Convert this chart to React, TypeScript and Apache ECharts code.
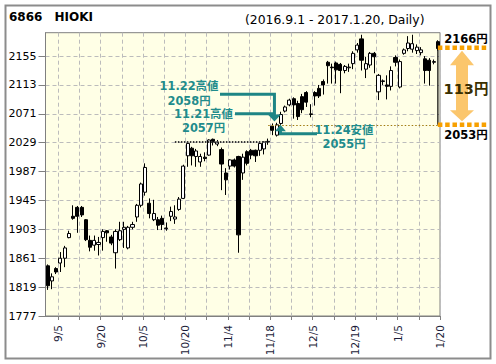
import React, { useEffect, useRef } from 'react';
import * as echarts from 'echarts';

// Trading days 2016.9.1 - 2017.1.20
const dates = [
  '9/1','9/2','9/5','9/6','9/7','9/8','9/9','9/12','9/13','9/14','9/15','9/16','9/20','9/21','9/23','9/26','9/27','9/28','9/29','9/30',
  '10/3','10/4','10/5','10/6','10/7','10/11','10/12','10/13','10/14','10/17','10/18','10/19','10/20','10/21','10/24','10/25','10/26','10/27','10/28','10/31',
  '11/1','11/2','11/4','11/7','11/8','11/9','11/10','11/11','11/14','11/15','11/16','11/17','11/18','11/21','11/22','11/24','11/25','11/28','11/29','11/30',
  '12/1','12/2','12/5','12/6','12/7','12/8','12/9','12/12','12/13','12/14','12/15','12/16','12/19','12/20','12/21','12/22','12/26','12/27','12/28','12/29','12/30',
  '1/4','1/5','1/6','1/10','1/11','1/12','1/13','1/16','1/17','1/18','1/19','1/20'
];

const opens = [
  1850,1828,1846,1854,1861,1891,1922,1935,1935,1917,1887,1880,1881,1891,1901,1892,1869,1888,1903,1876,
  1906,1921,1938,1957,1941,1917,1917,1919,1904,1922,1918,1932,1948,2010,2021,2009,2001,2008,2011,2034,
  2027,2019,1985,1995,2004,2009,1985,2016,2018,2018,2018,2020,2030,2053,2040,2057,2075,2084,2093,2086,
  2096,2102,2070,2102,2108,2118,2146,2139,2145,2143,2134,2138,2144,2164,2180,2136,2142,2159,2103,2118,2113,
  2111,2153,2110,2159,2166,2165,2163,2160,2151,2149,2146,2176
];
const closes = [
  1821,1834,1841,1861,1876,1897,1919,1922,1924,1888,1877,1887,1884,1900,1898,1883,1900,1901,1906,1906,
  1910,1938,1969,1993,1926,1926,1909,1910,1905,1929,1921,1947,1995,2028,2010,2017,2009,2006,2033,2030,
  2030,1998,1975,2004,1995,1895,2008,1999,2011,2010,2028,2030,2031,2047,2055,2070,2081,2091,2084,2067,
  2077,2088,2071,2097,2097,2113,2141,2138,2135,2134,2140,2139,2159,2171,2149,2144,2159,2154,2127,2119,2111,
  2134,2146,2147,2164,2174,2173,2168,2164,2134,2134,2147,2166
];
const lows = [
  1815,1816,1838,1841,1848,1890,1917,1898,1921,1886,1871,1872,1865,1872,1885,1880,1846,1886,1876,1874,
  1903,1914,1935,1952,1919,1915,1902,1902,1901,1915,1911,1930,1947,1994,1996,1994,1994,2002,2010,2025,
  2024,1960,1953,1990,1993,1869,1975,1996,2005,2001,2010,2012,2026,2040,2038,2055,2073,2082,2064,2062,
  2072,2081,2066,2083,2094,2099,2115,2115,2115,2101,2130,2132,2136,2160,2134,2123,2138,2130,2091,2113,2092,
  2105,2140,2108,2157,2162,2160,2158,2156,2115,2112,2143,2163
];
const highs = [
  1852,1839,1848,1870,1879,1901,1938,1937,1937,1918,1894,1894,1892,1903,1902,1895,1903,1914,1914,1908,
  1914,1940,1971,1999,1948,1946,1921,1923,1913,1936,1938,1950,1997,2030,2023,2020,2013,2015,2034,2035,
  2033,2022,1992,2005,2006,2010,2013,2018,2020,2019,2030,2031,2035,2057,2058,2074,2083,2093,2095,2090,
  2100,2104,2085,2104,2113,2121,2148,2144,2147,2145,2142,2144,2162,2174,2186,2154,2161,2161,2129,2121,2127,
  2140,2156,2150,2166,2184,2186,2172,2168,2155,2152,2150,2178
];

const yTicks = [1777, 1819, 1861, 1903, 1945, 1987, 2029, 2071, 2113, 2155];
const yMin = 1777;
const yMax = 2189;

const resistanceLevel = 2030; // dotted band
const lowLevel = 2055; // 11.24 low line
const topLevel = 2167; // range top marker

const FONT = "'DejaVu Sans', 'Noto Sans CJK JP', sans-serif";
const TEAL = '#1e8585';
const TEAL_TEXT = '#1f8c8c';

export default function App() {
  const ref = useRef<HTMLDivElement>(null);
  useEffect(() => {
    const chart = echarts.init(ref.current!, null, { renderer: 'svg' });
    const candleData = dates.map((_, i) => [opens[i], closes[i], lows[i], highs[i]]);
    const boundaries = ['', ...dates];
    const tickFn = (i: number) => i >= 3 && (i - 3) % 5 === 0;
    const labelFn = (i: number) => i >= 3 && (i - 3) % 10 === 0;

    chart.setOption({
      animation: false,
      backgroundColor: '#ffffff',
      grid: {
        left: 45.5, top: 32.7, right: 56, bottom: 48,
        show: true, backgroundColor: '#ffffe6', borderColor: '#808080', borderWidth: 1,
      },
      xAxis: [
        {
          type: 'category', data: dates, boundaryGap: true, position: 'top',
          axisLine: { show: false }, axisTick: { show: false }, axisLabel: { show: false }, splitLine: { show: false },
        },
        {
          type: 'category', data: boundaries, boundaryGap: false, position: 'bottom',
          min: 0, max: boundaries.length - 1,
          axisLine: { show: true, lineStyle: { color: '#808080' } },
          axisTick: { show: true, interval: tickFn, length: 4, lineStyle: { color: '#808080' } },
          axisLabel: { interval: labelFn, rotate: 90, margin: 9, fontSize: 10.5, fontFamily: FONT, color: '#1c1c3a' },
          splitLine: { show: true, interval: tickFn, lineStyle: { color: '#bcbcbc', type: [4, 3], width: 1 } },
        },
      ],
      yAxis: {
        type: 'value', min: yMin, max: yMax,
        axisLine: { show: true, lineStyle: { color: '#808080' } },
        axisTick: { show: true, length: 7, customValues: yTicks, lineStyle: { color: '#808080' } },
        axisLabel: { customValues: yTicks, formatter: (v: number) => String(v), margin: 9, fontSize: 11, fontFamily: FONT, color: '#000' },
        splitLine: { show: true, lineStyle: { color: '#bcbcbc', type: [4, 3], width: 1 } },
      },
      series: [
        {
          type: 'candlestick',
          xAxisIndex: 0, yAxisIndex: 0,
          data: candleData,
          barWidth: 3.6,
          itemStyle: { color: '#ffffff', color0: '#000000', borderColor: '#000000', borderColor0: '#000000', borderWidth: 1 },
          markLine: {
            silent: true, symbol: ['none', 'none'], label: { show: false },
            data: [
              [
                { coord: [30, resistanceLevel], lineStyle: { color: '#3a3a3a', width: 2, type: [1.5, 1.5] } },
                { coord: [52, resistanceLevel] },
              ],
              [
                { coord: [52, lowLevel], lineStyle: { color: '#a07a10', width: 1.2, type: [1.5, 2] } },
                { coord: [92, lowLevel] },
              ],
            ],
          },
        },
      ],
    });

    const px = (i: number, v: number) => chart.convertToPixel({ seriesIndex: 0 }, [i, v]) as number[];
    const a = px(53, highs[53]);
    const c = px(55, lows[55]);
    const topY = px(92, topLevel)[1];
    const lowY = px(92, lowLevel)[1];
    const lastX = px(92, closes[92])[0];
    const lastCloseY = px(92, closes[92])[1];

    const tipAX = a[0] + 2, tipAY = a[1] - 2;
    const tipCX = c[0] - 0.5, tipCY = c[1];
    const t = (text: string, x: number, y: number, size: number, fill: string, weight = 'bold') => ({
      type: 'text', silent: true, z: 100,
      style: { text, x, y, fill, fontSize: size, fontWeight: weight, fontFamily: FONT, align: 'center', verticalAlign: 'middle' },
    });
    const ax = 462;

    chart.setOption({
      graphic: [
        { type: 'rect', silent: true, shape: { x: 5.5, y: 5.5, width: 485, height: 353 }, style: { fill: 'none', stroke: '#8c8c8c', lineWidth: 2 } },
        { type: 'text', silent: true, style: { text: '6866', x: 9, y: 17, fill: '#000', fontSize: 12, fontWeight: 'bold', fontFamily: FONT, verticalAlign: 'middle' } },
        { type: 'text', silent: true, style: { text: 'HIOKI', x: 54.5, y: 17, fill: '#000', fontSize: 12, fontWeight: 'bold', fontFamily: FONT, verticalAlign: 'middle' } },
        { type: 'text', silent: true, style: { text: '(2016.9.1 - 2017.1.20, Daily)', x: 245, y: 19, fill: '#000', fontSize: 12.4, fontFamily: FONT, verticalAlign: 'middle' } },

        // 11.22 arrow
        { type: 'polyline', silent: true, z: 100, shape: { points: [[220, 94.3], [tipAX, 94.3], [tipAX, tipAY - 6]] }, style: { stroke: TEAL, lineWidth: 3, fill: 'none' } },
        // 11.21 line
        { type: 'line', silent: true, z: 100, shape: { x1: 235, y1: 113.7, x2: tipAX, y2: 113.7 }, style: { stroke: TEAL, lineWidth: 3 } },
        { type: 'polygon', silent: true, z: 100, shape: { points: [[tipAX - 6.5, tipAY - 7], [tipAX + 6.5, tipAY - 7], [tipAX, tipAY]] }, style: { fill: TEAL } },
        // 11.24 arrow
        { type: 'polyline', silent: true, z: 100, shape: { points: [[317, tipCY + 9], [tipCX, tipCY + 9], [tipCX, tipCY + 5]] }, style: { stroke: TEAL, lineWidth: 3, fill: 'none' } },
        { type: 'polygon', silent: true, z: 100, shape: { points: [[tipCX - 5.5, tipCY + 6.5], [tipCX + 5.5, tipCY + 6.5], [tipCX, tipCY]] }, style: { fill: TEAL } },

        t('11.22高値', 189, 86, 11.4, TEAL_TEXT),
        t('2058円', 189, 101, 11.4, TEAL_TEXT),
        t('11.21高値', 203.5, 113.5, 11.4, TEAL_TEXT),
        t('2057円', 203.5, 128, 11.4, TEAL_TEXT),
        t('11.24安値', 344, 130, 11.4, TEAL_TEXT),
        t('2055円', 344, 143.5, 11.4, TEAL_TEXT),

        // range markers
        { type: 'line', silent: true, z: 90, shape: { x1: lastX, y1: lastCloseY, x2: lastX, y2: lowY }, style: { stroke: '#000', lineWidth: 1.2 } },
        { type: 'line', silent: true, z: 95, shape: { x1: lastX, y1: topY, x2: 487, y2: topY }, style: { stroke: '#f7a000', lineWidth: 4.5, lineDash: [4.5, 2.8] } },
        { type: 'line', silent: true, z: 95, shape: { x1: lastX, y1: lowY, x2: 487, y2: lowY }, style: { stroke: '#f7a000', lineWidth: 4.5, lineDash: [4.5, 2.8] } },
        {
          type: 'polygon', silent: true, z: 92,
          shape: { points: [[ax, topY + 3], [ax + 12, topY + 17.5], [ax + 6, topY + 17.5], [ax + 6, lowY - 14.5], [ax + 12, lowY - 14.5], [ax, lowY - 3.5], [ax - 12, lowY - 14.5], [ax - 6, lowY - 14.5], [ax - 6, topY + 17.5], [ax - 12, topY + 17.5]] },
          style: { fill: '#fbc66c' },
        },
        t('2166円', 466, 39, 11.5, '#000'),
        t('2053円', 466, 134.5, 11.5, '#000'),
        t('113円', 466, 89, 14.5, '#3a2f00'),
      ],
    });
    return () => chart.dispose();
  }, []);
  return <div ref={ref} style={{ position: 'absolute', left: 0, top: 0, width: 496, height: 364, background: '#fff' }} />;
}
